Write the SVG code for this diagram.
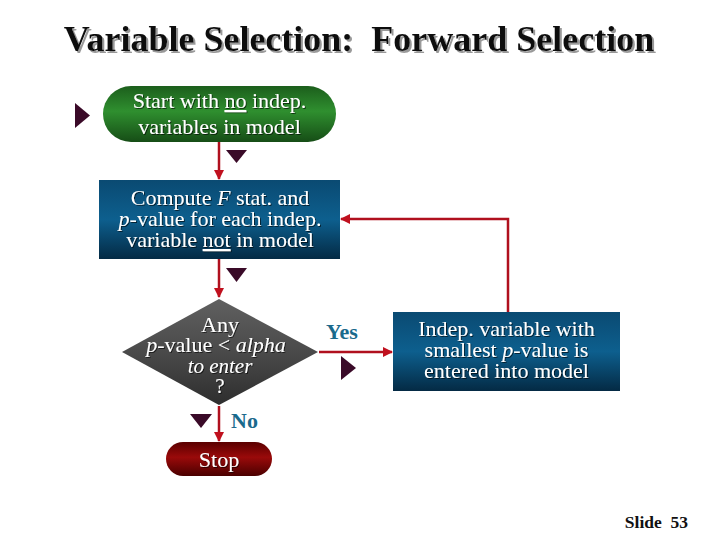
<svg xmlns="http://www.w3.org/2000/svg" width="720" height="540" viewBox="0 0 720 540">
<defs>
<linearGradient id="gGreen" x1="0" y1="0" x2="0" y2="1">
<stop offset="0" stop-color="#1c5e1c"/><stop offset="0.45" stop-color="#2f8f2f"/><stop offset="1" stop-color="#164d16"/>
</linearGradient>
<linearGradient id="gBlue" x1="0" y1="0" x2="0" y2="1">
<stop offset="0" stop-color="#0a4a72"/><stop offset="0.5" stop-color="#0d5f8e"/><stop offset="1" stop-color="#042a44"/>
</linearGradient>
<linearGradient id="gGray" x1="0" y1="0" x2="0" y2="1">
<stop offset="0" stop-color="#606060"/><stop offset="0.5" stop-color="#4a4a4a"/><stop offset="1" stop-color="#2e2e2e"/>
</linearGradient>
<linearGradient id="gRed" x1="0" y1="0" x2="0" y2="1">
<stop offset="0" stop-color="#5a0000"/><stop offset="0.45" stop-color="#9a0a0a"/><stop offset="1" stop-color="#4a0000"/>
</linearGradient>
<marker id="arr" viewBox="0 0 10 10" refX="9" refY="5" markerWidth="4" markerHeight="4" orient="auto" markerUnits="strokeWidth">
<path d="M0,0 L10,5 L0,10 z" fill="#c0101e"/>
</marker>
<filter id="sh" x="-5%" y="-5%" width="110%" height="120%">
<feDropShadow dx="1" dy="1" stdDeviation="0.4" flood-color="#000" flood-opacity="0.6"/>
</filter>
<filter id="tsh" x="-5%" y="-10%" width="110%" height="130%">
<feDropShadow dx="2" dy="2" stdDeviation="0.5" flood-color="#999" flood-opacity="1"/>
</filter>
</defs>
<style>
text{font-family:"Liberation Serif","Times New Roman",serif}
.t{fill:#fff;font-size:22px;text-anchor:middle}
.i{font-style:italic}
.lbl{fill:#1a6a8c;font-size:22px;font-weight:bold}
.title{font-weight:bold;font-size:36px;fill:#111;text-anchor:middle}
.slide{font-weight:bold;font-size:17.5px;fill:#111;text-anchor:end}
.con{fill:none;stroke:#b0101e;stroke-width:2.5}
.tri{fill:#3a0a28}
</style>
<rect width="720" height="540" fill="#fff"/>
<text class="title" x="359" y="51" filter="url(#tsh)" xml:space="preserve">Variable Selection:  Forward Selection</text>

<g id="decor">
<polygon class="tri" points="75,103 90,115.5 75,128"/>
<polygon class="tri" points="226,150 247,150 236.5,163"/>
<polygon class="tri" points="226,268 247,268 236.5,282"/>
<polygon class="tri" points="341,356 356,368 341,380"/>
<polygon class="tri" points="190,414 212,414 201,428"/>
</g>

<g id="connectors">
<line class="con" x1="219" y1="142" x2="219" y2="179" marker-end="url(#arr)"/>
<line class="con" x1="219" y1="259" x2="219" y2="297" marker-end="url(#arr)"/>
<line class="con" x1="319" y1="352" x2="392" y2="352" marker-end="url(#arr)"/>
<polyline class="con" points="508,312 508,219 341,219" marker-end="url(#arr)"/>
<line class="con" x1="219" y1="406" x2="219" y2="441" marker-end="url(#arr)"/>
</g>

<g id="start">
<rect x="103" y="86" width="233" height="56" rx="28" fill="url(#gGreen)"/>
<g filter="url(#sh)">
<text class="t" x="219.5" y="108">Start with <tspan text-decoration="underline">no</tspan> indep.</text>
<text class="t" x="219.5" y="134">variables in model</text>
</g>
</g>

<g id="compute">
<rect x="99" y="180" width="241" height="79" fill="url(#gBlue)"/>
<g filter="url(#sh)">
<text class="t" x="220" y="205">Compute <tspan class="i">F</tspan> stat. and</text>
<text class="t" x="220" y="226"><tspan class="i">p</tspan>-value for each indep.</text>
<text class="t" x="220" y="247">variable <tspan text-decoration="underline">not</tspan> in model</text>
</g>
</g>

<g id="decision">
<polygon points="219,299 318,352 219,405 122,352" fill="url(#gGray)"/>
<g filter="url(#sh)">
<text class="t" x="220" y="332">Any</text>
<text class="t" x="216" y="352"><tspan class="i">p</tspan>-value &lt; <tspan class="i">alpha</tspan></text>
<text class="t i" x="220" y="373" style="font-size:21px">to enter</text>
<text class="t" x="220" y="393" style="font-size:21px">?</text>
</g>
</g>
<text class="lbl" x="326" y="339">Yes</text>
<text class="lbl" x="231" y="428">No</text>

<g id="enter">
<rect x="393" y="312" width="227" height="79" fill="url(#gBlue)"/>
<g filter="url(#sh)">
<text class="t" x="506.5" y="336">Indep. variable with</text>
<text class="t" x="506.5" y="357">smallest <tspan class="i">p</tspan>-value is</text>
<text class="t" x="506.5" y="378">entered into model</text>
</g>
</g>

<g id="stop">
<rect x="166" y="442" width="106" height="34" rx="17" fill="url(#gRed)"/>
<text class="t" x="219" y="467" filter="url(#sh)">Stop</text>
</g>

<text class="slide" x="688" y="528" xml:space="preserve">Slide  53</text>
</svg>
